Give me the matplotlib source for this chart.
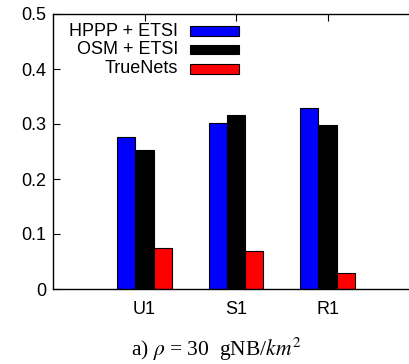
import numpy as np
import matplotlib.pyplot as plt
from matplotlib.patches import Rectangle

categories = ['U1', 'S1', 'R1']
series_names = ['HPPP + ETSI', 'OSM + ETSI', 'TrueNets']
hppp_etsi = [0.276, 0.301, 0.330]
osm_etsi = [0.252, 0.316, 0.299]
truenets = [0.074, 0.070, 0.030]
colors = ['#0000ff', '#000000', '#ff0000']

plt.rcParams['font.family'] = ['Liberation Sans', 'DejaVu Sans']
plt.rcParams['mathtext.fontset'] = 'stix'

W, H = 409, 364
fig = plt.figure(figsize=(W / 100, H / 100), dpi=100)
# plot box runs off the right edge, like the reference
ax = fig.add_axes([53 / W, 1 - 289 / H, 366 / W, 275 / H])

x = np.arange(1, len(categories) + 1)
width = 0.2
for i, (vals, col) in enumerate(zip([hppp_etsi, osm_etsi, truenets], colors)):
    ax.bar(x + (i - 1) * width, vals, width, color=col, edgecolor='black',
           linewidth=0.8, zorder=2)

ax.set_xlim(0, 4)
ax.set_ylim(0, 0.5)
ax.set_yticks([0, 0.1, 0.2, 0.3, 0.4, 0.5])
ax.set_yticklabels(['0', '0.1', '0.2', '0.3', '0.4', '0.5'])
ax.set_xticks(x)
ax.set_xticklabels(categories)
ax.tick_params(axis='both', direction='in', length=5, width=0.8,
               labelsize=13, top=True, right=True, pad=5)
ax.tick_params(axis='x', pad=9)
for s in ax.spines.values():
    s.set_linewidth(1.0)

# legend, gnuplot style: right-aligned text, sample box on the right
rows_y = [0.938, 0.871, 0.801]
for name, col, yy in zip(series_names, colors, rows_y):
    ax.text(0.3415, yy, name, transform=ax.transAxes, ha='right',
            va='center', fontsize=13)
    ax.add_patch(Rectangle((0.3743, yy - 0.0175), 0.134, 0.035,
                           transform=ax.transAxes, facecolor=col,
                           edgecolor='black', linewidth=0.8, zorder=3))

fig.text(216.5 / W, 1 - 356 / H, r'a) $\rho$ = 30  gNB/$km^2$',
         ha='center', va='baseline', fontsize=15.5, family='Liberation Serif',
         math_fontfamily='stix')

plt.savefig('out.png', dpi=100)
